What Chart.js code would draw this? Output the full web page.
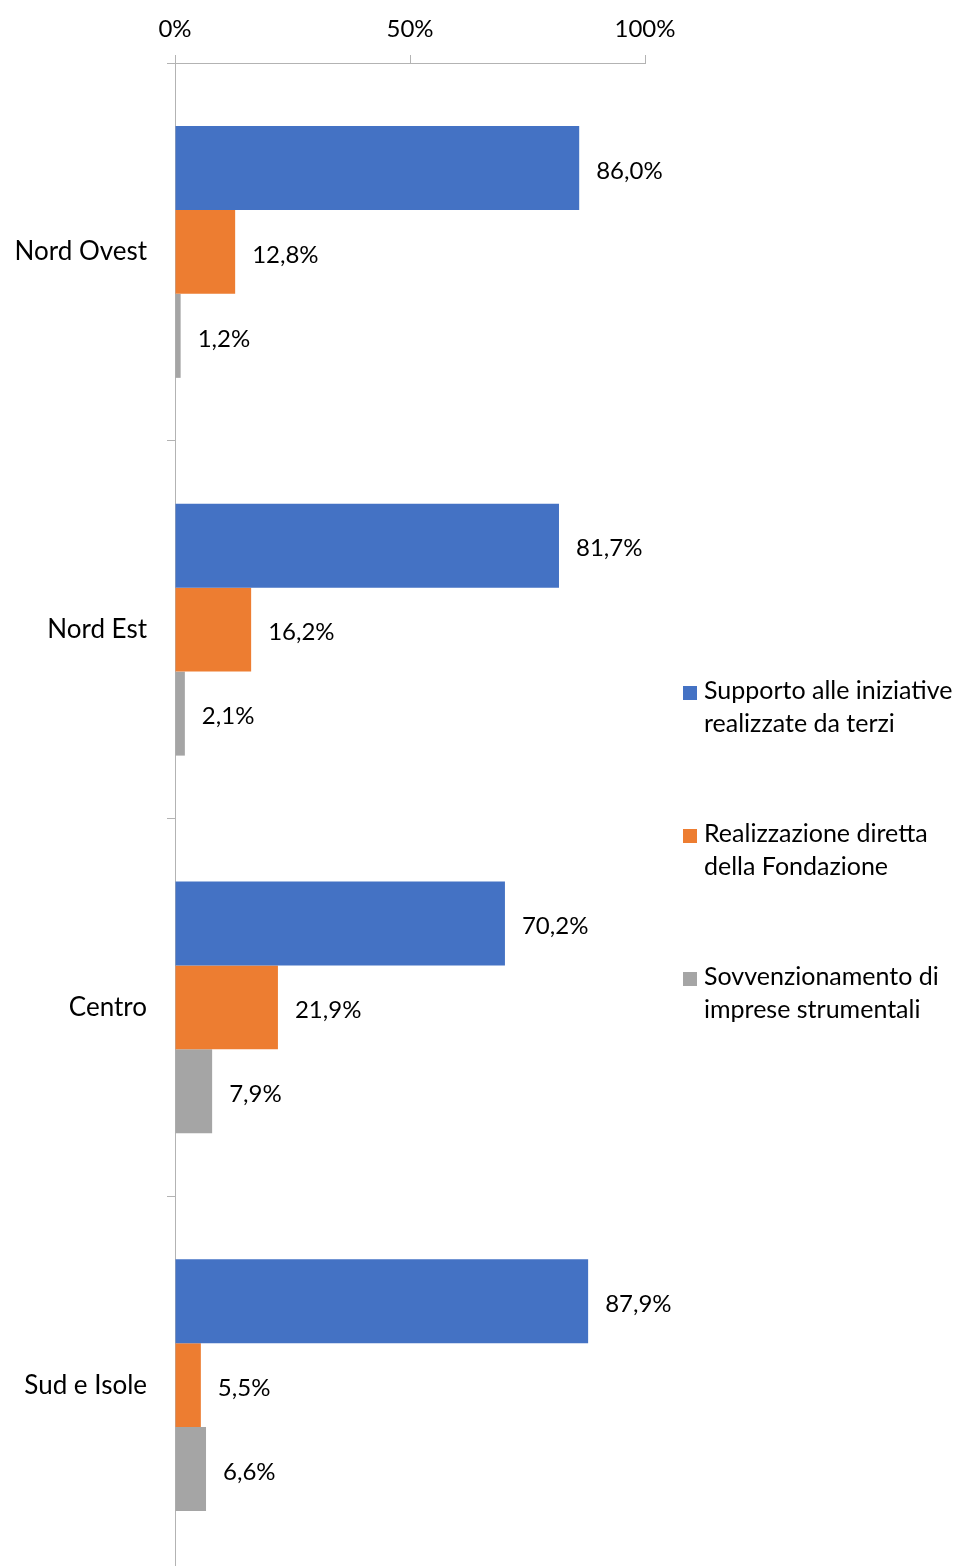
<!DOCTYPE html>
<html>
<head>
<meta charset="utf-8">
<script src="https://cdn.jsdelivr.net/npm/chart.js@4/dist/chart.umd.min.js"></script>
<style>
  html, body { margin: 0; padding: 0; background: #fff; }
  #wrap { width: 954px; height: 1566px; overflow: hidden; }
</style>
</head>
<body>
<div id="wrap"><canvas id="chart" width="954" height="1574"></canvas></div>
<script>
const categories = ['Nord Ovest', 'Nord Est', 'Centro', 'Sud e Isole'];
const seriesNames = [
    ['Supporto alle iniziative', 'realizzate da terzi'],
    ['Realizzazione diretta', 'della Fondazione'],
    ['Sovvenzionamento di', 'imprese strumentali']
];
const supporto = [86.0, 81.7, 70.2, 87.9];
const realizzazione = [12.8, 16.2, 21.9, 5.5];
const sovvenzionamento = [1.2, 2.1, 7.9, 6.6];
const colors = ['#4472C4', '#ED7D31', '#A5A5A5'];

const FONT = 'Lato';
const axisGrey = '#B3B3B3';

// etichette dei valori a destra delle barre
const valueLabels = {
    id: 'valueLabels',
    afterDatasetsDraw(chart) {
        const ctx = chart.ctx;
        ctx.save();
        ctx.font = '24px ' + FONT;
        ctx.fillStyle = '#000';
        ctx.textAlign = 'left';
        ctx.textBaseline = 'middle';
        chart.data.datasets.forEach((ds, i) => {
            chart.getDatasetMeta(i).data.forEach((bar, j) => {
                const txt = ds.data[j].toFixed(1).replace('.', ',') + '%';
                ctx.fillText(txt, bar.x + 17, bar.y + 3);
            });
        });
        ctx.restore();
    }
};

// legenda a destra su due righe
const sideLegend = {
    id: 'sideLegend',
    afterDraw(chart) {
        const ctx = chart.ctx;
        ctx.save();
        ctx.font = '25px ' + FONT;
        ctx.textAlign = 'left';
        ctx.textBaseline = 'alphabetic';
        const x = 683, y0 = 699, step = 143, lh = 33;
        seriesNames.forEach((lines, i) => {
            const y = y0 + i * step;
            ctx.fillStyle = colors[i];
            ctx.fillRect(x, y - 13, 14, 14);
            ctx.fillStyle = '#000';
            lines.forEach((l, k) => ctx.fillText(l, x + 21, y + k * lh));
        });
        ctx.restore();
    }
};

new Chart(document.getElementById('chart'), {
    type: 'bar',
    data: {
        labels: categories,
        datasets: [
            { label: seriesNames[0].join(' '), data: supporto, backgroundColor: colors[0] },
            { label: seriesNames[1].join(' '), data: realizzazione, backgroundColor: colors[1] },
            { label: seriesNames[2].join(' '), data: sovvenzionamento, backgroundColor: colors[2] }
        ]
    },
    options: {
        indexAxis: 'y',
        responsive: false,
        animation: false,
        devicePixelRatio: 1,
        layout: { padding: { left: 0, right: 309, top: 0, bottom: 0 } },
        datasets: { bar: { barPercentage: 1, categoryPercentage: 0.667 } },
        plugins: { legend: { display: false }, tooltip: { enabled: false } },
        scales: {
            x: {
                position: 'top',
                min: 0, max: 100,
                afterFit(s) { s.height = 63; s.paddingLeft = 0; },
                ticks: {
                    stepSize: 50,
                    padding: 11,
                    color: '#000',
                    font: { family: FONT, size: 24 },
                    callback: v => v + '%'
                },
                grid: { drawOnChartArea: false, drawTicks: true, tickLength: 8, color: axisGrey },
                border: { display: true, color: axisGrey }
            },
            y: {
                afterFit(s) { s.width = 175; s.paddingTop = 0; s.paddingBottom = 0; },
                ticks: {
                    padding: 20,
                    color: '#000',
                    font: { family: FONT, size: 26 }
                },
                grid: { offset: true, drawOnChartArea: false, drawTicks: true, tickLength: 8, color: axisGrey },
                border: { display: true, color: axisGrey }
            }
        }
    },
    plugins: [valueLabels, sideLegend]
});
</script>
</body>
</html>
